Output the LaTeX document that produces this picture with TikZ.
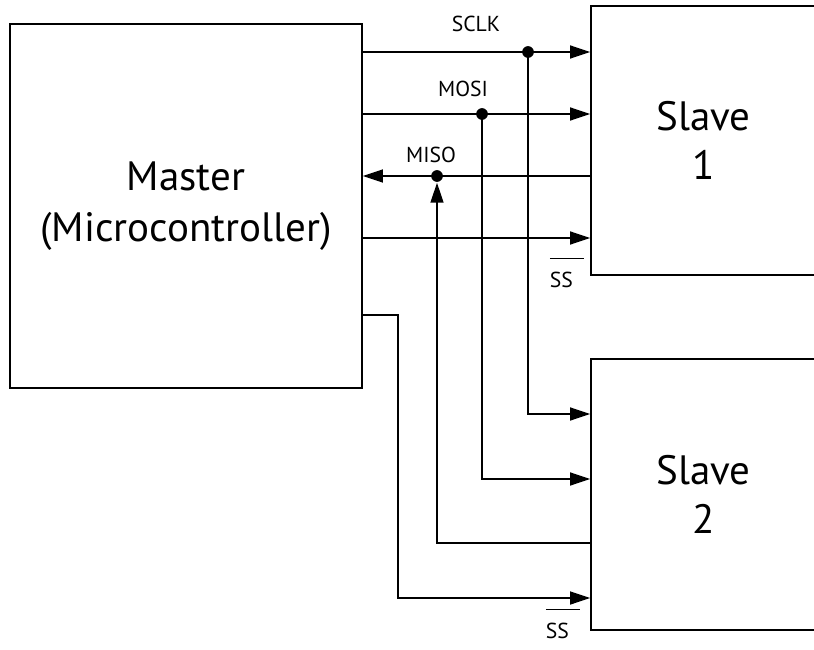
\documentclass[tikz,border=0pt]{standalone}
\usepackage{fontspec}
\setmainfont{PT Sans}
\usetikzlibrary{arrows.meta}

\newcommand{\ssbar}{\rlap{\raisebox{23.5pt}{\rule{29pt}{1.5pt}}}SS}

\begin{document}
\begin{tikzpicture}[x=0.03cm, y=-0.03cm, line width=1.5pt,
  sig/.style={-{Triangle[length=17pt, width=11pt]}},
  box/.style={draw, rectangle, align=center},
  lbl/.style={font=\fontsize{18.5}{21}\selectfont, anchor=base},
  dot/.style={circle, fill, inner sep=0pt, minimum size=10pt}]
  \useasboundingbox (0,0) rectangle (814,650);
  \clip (0,0) rectangle (814,650);
  % boxes
  \node[box, font=\fontsize{35}{44}\selectfont, minimum width=10.56cm, minimum height=10.92cm] (master) at (186,206) {Master\\(Microcontroller)};
  \node[box, font=\fontsize{35}{42}\selectfont, minimum width=6.75cm, minimum height=8.07cm] (slave1) at (703.5,140.5) {Slave\\1};
  \node[box, font=\fontsize{35}{42}\selectfont, minimum width=6.75cm, minimum height=8.13cm] (slave2) at (703.5,494.5) {Slave\\2};
  % bus rows
  \coordinate (sclk) at (0,52);
  \coordinate (mosi) at (0,114);
  \coordinate (miso) at (0,176);
  \coordinate (ss1) at (0,238);
  \coordinate (ss2) at (0,315);
  \node[dot] (d1) at (528,52) {};
  \node[dot] (d2) at (482,114) {};
  \node[dot] (d3) at (437,176) {};
  \draw[sig] (master.east |- sclk) -- (slave1.west |- sclk);
  \draw[sig] (master.east |- mosi) -- (slave1.west |- mosi);
  \draw[sig] (slave1.west |- miso) -- (master.east |- miso);
  \draw[sig] (master.east |- ss1) -- (slave1.west |- ss1);
  % branches to slave 2
  \draw[sig] (d1.center) |- (slave2.west |- 0,414);
  \draw[sig] (d2.center) |- (slave2.west |- 0,479);
  \draw[sig] (slave2.west |- 0,543) -| (d3);
  \draw[sig] (master.east |- ss2) -| (398,598) -- (slave2.west |- 0,598);
  % labels
  \node[lbl] (lsclk) at (476,32) {SCLK};
  \node[lbl] (lmosi) at (463,97) {MOSI};
  \node[lbl] (lmiso) at (431,162) {MISO};
  \node[lbl, anchor=base west] (lss1) at (545,287) {\ssbar};
  \node[lbl, anchor=base west] (lss2) at (541,638) {\ssbar};
\end{tikzpicture}
\end{document}
